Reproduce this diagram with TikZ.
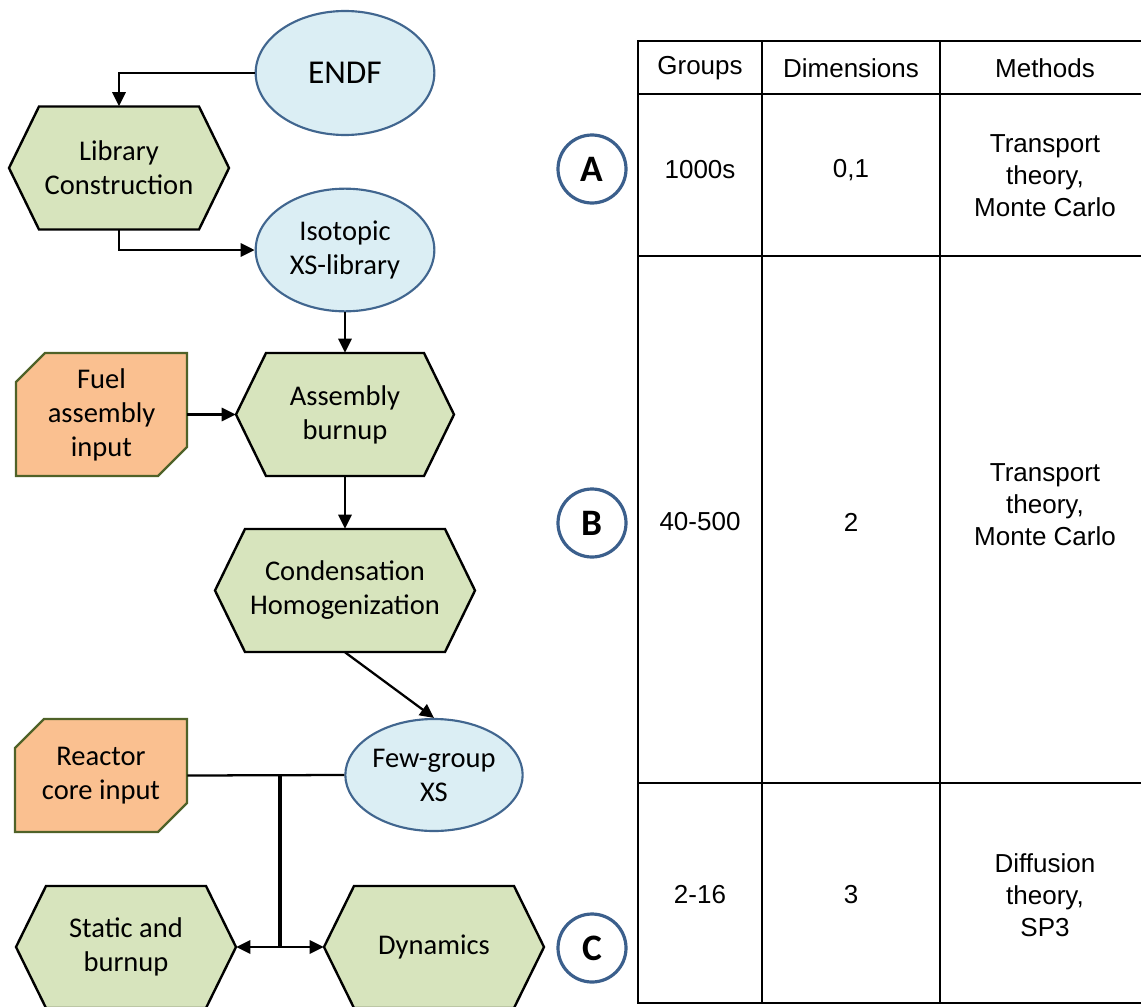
\documentclass[tikz,border=0pt]{standalone}
\usepackage{fontspec}
\setmainfont{Carlito}
\newfontfamily\tabfont{Liberation Sans}
\usetikzlibrary{positioning,calc,arrows.meta,shapes.geometric}
\definecolor{hexfill}{HTML}{D7E4BD}
\definecolor{elfill}{HTML}{DBEEF4}
\definecolor{elline}{HTML}{41668F}
\definecolor{infill}{HTML}{FAC090}
\definecolor{inline}{HTML}{4F6228}
\definecolor{circline}{HTML}{3B5F8C}
\tikzset{
  hexshape/.style={draw=black, fill=hexfill, line width=1.8pt},
  inshape/.style={draw=inline, fill=infill, line width=1.8pt},
  boxtext/.style={inner sep=0pt, align=center, font=\fontsize{21.4}{25.5}\selectfont},
  elli/.style={ellipse, draw=elline, fill=elfill, line width=1.6pt, inner sep=0pt, align=center,
    font=\fontsize{21.4}{25.5}\selectfont},
  arr/.style={-{Triangle[length=10.5pt,width=10pt]}, line width=1.7pt},
  tbl/.style={line width=1.8pt},
  tab/.style={align=center, font=\tabfont\fontsize{19.5}{24}\selectfont},
  lbl/.style={circle, draw=circline, line width=2.4pt, minimum size=51pt, inner sep=0pt,
    font=\bfseries\fontsize{28}{28}\selectfont}}
% hexagon step: name, x, y, width, height, text
\newcommand{\hexbox}[6]{%
  \draw[hexshape] ({#2-#4/2},#3) -- ({#2-#4/2+30},{#3-#5/2}) -- ({#2+#4/2-30},{#3-#5/2})
    -- ({#2+#4/2},#3) -- ({#2+#4/2-30},{#3+#5/2}) -- ({#2-#4/2+30},{#3+#5/2}) -- cycle;
  \node[boxtext, minimum width={#4*0.75pt}, minimum height={#5*0.75pt}] (#1) at (#2,#3) {#6};}
% input card: name, x, y, width, height, text
\newcommand{\inbox}[6]{%
  \draw[inshape] ({#2-#4/2},{#3-#5/2+29}) -- ({#2-#4/2+29},{#3-#5/2}) -- ({#2+#4/2},{#3-#5/2})
    -- ({#2+#4/2},{#3+#5/2-29}) -- ({#2+#4/2-29},{#3+#5/2}) -- ({#2-#4/2},{#3+#5/2}) -- cycle;
  \node[boxtext, minimum width={#4*0.75pt}, minimum height={#5*0.75pt}] (#1) at (#2,#3) {#6};}

\begin{document}
\begin{tikzpicture}[x=0.75pt, y=-0.75pt]
\useasboundingbox (0,0) rectangle (1141,1006);
\clip (0,0) rectangle (1141,1006);
% flow chart
\node[elli, minimum width=134pt, minimum height=93pt, font=\fontsize{25}{28}\selectfont] (endf) at (345,73) {ENDF};
\hexbox{lib}{119}{168}{220}{123}{Library\\Construction}
\node[elli, minimum width=134pt, minimum height=92pt] (iso) at (345,250) {Isotopic\\XS-library};
\inbox{fuel}{101.5}{414.5}{171}{123}{Fuel\\assembly\\input}
\hexbox{asm}{345}{414.5}{218}{123}{Assembly\\burnup}
\hexbox{cond}{345}{590.5}{260}{123}{Condensation\\Homogenization}
\inbox{core}{101}{775.5}{172}{113}{Reactor\\core input}
\node[elli, minimum width=133pt, minimum height=84pt] (few) at (434,775) {Few-group\\XS};
\hexbox{stat}{126}{947}{220}{122}{Static and\\burnup}
\hexbox{dyn}{434}{947}{220}{122}{Dynamics}
\coordinate (jn) at (280,775);
\coordinate (jb) at (280,947);
\draw[arr] (endf.west) -| (lib.north);
\draw[arr] (lib.south) |- (iso.west);
\draw[arr] (iso.south) -- (asm.north);
\draw[arr] (fuel.east) -- (asm.west);
\draw[arr] (asm.south) -- (cond.north);
\draw[arr] (cond.south) -- (few.north);
\draw[line width=1.7pt] (core.east) -- (few.west);
\draw[line width=2.8pt] (jn) -- (jb);
\draw[arr] (jb) -- (stat.east);
\draw[arr] (jb) -- (dyn.west);
% level markers
\node[lbl] (la) at (592,169) {A};
\node[lbl] (lb) at (592,523) {B};
\node[lbl] (lc) at (592,948) {C};
% table
\draw[tbl] (638,41) rectangle (1150,1003);
\foreach \y in {94,256,783} \draw[tbl] (638,\y) -- (1150,\y);
\foreach \x in {762,940} \draw[tbl] (\x,41) -- (\x,1003);
\node[tab] (hg) at (700,68) {Groups};
\node[tab] (hd) at (851,68) {Dimensions};
\node[tab] (hm) at (1045,68) {Methods};
\foreach \n/\y/\g/\d/\my/\m in {a/170/1000s/{0,1}/176/{Transport\\theory,\\Monte Carlo},
    b/522/40-500/2/505/{Transport\\theory,\\Monte Carlo},
    c/895/2-16/3/895/{Diffusion\\theory,\\SP3}} {
  \node[tab] (g\n) at (700,\y) {\g};
  \node[tab] (d\n) at (851,\y) {\d};
  \node[tab] (m\n) at (1045,\my) {\m};}
\end{tikzpicture}
\end{document}
